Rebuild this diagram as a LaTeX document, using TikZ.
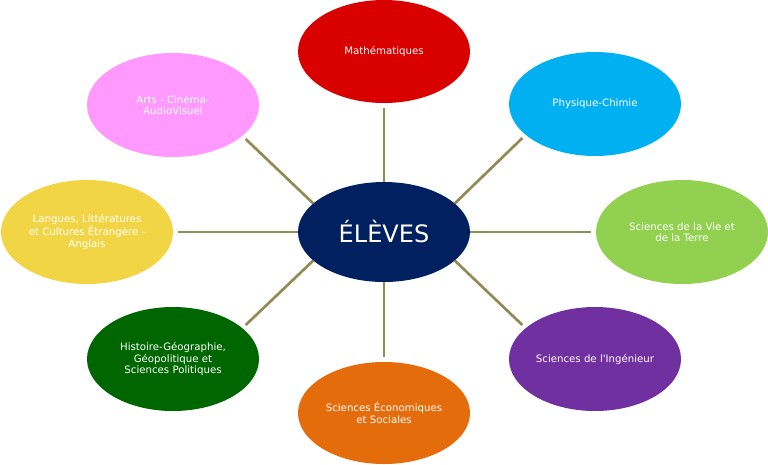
\documentclass[tikz,border=0pt]{standalone}
\usepackage{fontspec}
\setmainfont{DejaVu Sans}[Ligatures=TeXOff]
\usetikzlibrary{shapes.geometric}
\definecolor{lienc}{HTML}{948A54}
\definecolor{centrec}{HTML}{002060}
\definecolor{mathc}{HTML}{D90000}
\definecolor{pcc}{HTML}{00B0F0}
\definecolor{svtc}{HTML}{92D050}
\definecolor{sic}{HTML}{7030A0}
\definecolor{sesc}{HTML}{E46C0A}
\definecolor{hgc}{HTML}{006600}
\definecolor{llcc}{HTML}{F2D545}
\definecolor{artsc}{HTML}{FF99FF}

\begin{document}
\begin{tikzpicture}[x=1pt, y=-1pt,
    matiere/.style={ellipse, minimum width=172pt, minimum height=104pt, inner sep=0pt,
        text=white, align=center, font=\fontsize{10.2}{11.5}\selectfont},
    lien/.style={draw=lienc, line width=2.7pt, shorten >=4.5pt}]
    \useasboundingbox (0,0) rectangle (768,464);

    % Centre
    \node[ellipse, fill=centrec, minimum width=172pt, minimum height=100pt, text=white,
        font=\fontsize{24}{28}\selectfont] (eleves) at (384,232) {ÉLÈVES};

    % Matieres autour
    \node[matiere, fill=mathc, minimum height=103pt] (math) at (384,51.5) {Mathématiques};
    \node[matiere, fill=pcc] (pc) at (595,104) {Physique-Chimie};
    \node[matiere, fill=svtc] (svt) at (682,232) {Sciences de la Vie et\\de la Terre};
    \node[matiere, fill=sic] (si) at (595,359) {Sciences de l'Ingénieur};
    \node[matiere, fill=sesc, minimum height=102pt] (ses) at (384,413) {Sciences Économiques\\et Sociales};
    \node[matiere, fill=hgc] (hg) at (173,359) {Histoire-Géographie,\\Géopolitique et\\Sciences Politiques};
    \node[matiere, fill=llcc] (llce) at (87,232) {Langues, Littératures\\et Cultures Étrangère -\\Anglais};
    \node[matiere, fill=artsc] (arts) at (173,105) {Arts - Cinéma-\\AudioVisuel};

    % Liens
    \foreach \m/\a/\b in {math/90/270, pc/22/204, svt/0/180, si/-22/156,
        ses/-90/90, hg/202/24, llce/180/0, arts/158/-24}
        \draw[lien] (eleves.\a) -- (\m.\b);

\end{tikzpicture}
\end{document}
